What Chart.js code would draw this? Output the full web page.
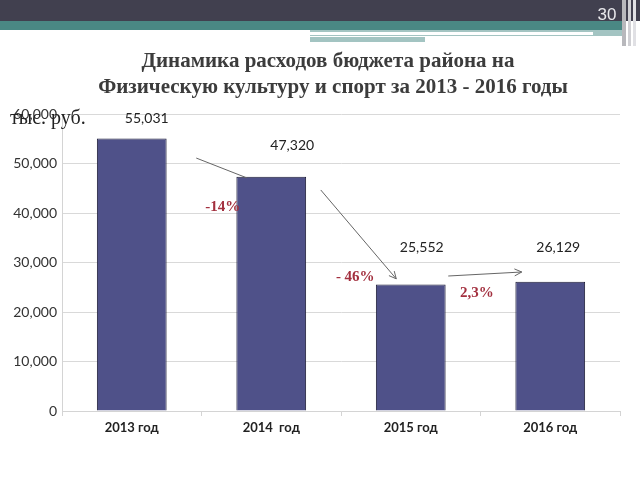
<!DOCTYPE html>
<html>
<head>
<meta charset="utf-8">
<script src="https://cdn.jsdelivr.net/npm/chart.js@4/dist/chart.umd.min.js"></script>
<style>
  html, body { margin: 0; padding: 0; background: #fff; }
  #wrap { width: 640px; height: 480px; position: relative; }
</style>
</head>
<body>
<div id="wrap"><canvas id="chart" width="640" height="480"></canvas></div>
<script>
// chart data
var years = ['2013 год', '2014  год', '2015 год', '2016 год'];
var spending = [55031, 47320, 25552, 26129];
var yTicks = [0, 10000, 20000, 30000, 40000, 50000, 60000];
var changes = ['-14%', '- 46%', '2,3%'];
var titleLines = ['Динамика расходов бюджета района на', 'Физическую культуру и спорт за 2013 - 2016 годы'];
var unitLabel = 'тыс. руб.';
var pageNo = '30';

function fmt(v) {
    return v === 0 ? '0' : v.toLocaleString('en-US');
}

// slide header stripes + title
var slidePlugin = {
    id: 'slide',
    beforeDraw: function(chart) {
        var ctx = chart.ctx;
        ctx.save();
        ctx.fillStyle = '#fff';
        ctx.fillRect(0, 0, chart.width, chart.height);
        ctx.fillStyle = '#41404f';
        ctx.fillRect(0, 0, 640, 21);
        ctx.fillStyle = '#4a8884';
        ctx.fillRect(0, 21, 625, 9);
        ctx.fillStyle = '#a3c4c2';
        ctx.fillRect(310, 30, 315, 6);
        ctx.fillStyle = '#ffffff';
        ctx.fillRect(0, 32, 593, 3);
        ctx.fillStyle = '#a3c4c2';
        ctx.fillRect(310, 37, 115, 5);
        ctx.fillStyle = '#b8b8bc';
        ctx.fillRect(622, 0, 4, 46);
        ctx.fillStyle = '#d0d0d4';
        ctx.fillRect(628, 0, 3, 46);
        ctx.fillStyle = '#e0e0e4';
        ctx.fillRect(633, 0, 3, 46);

        ctx.fillStyle = '#e8e8ec';
        ctx.font = '17px "Liberation Sans Narrow", "Liberation Sans", sans-serif';
        ctx.textAlign = 'center';
        ctx.textBaseline = 'middle';
        ctx.fillText(pageNo, 607, 15);

        ctx.fillStyle = '#3c3c3c';
        ctx.font = 'bold 21px "Liberation Serif", serif';
        ctx.fillText(titleLines[0], 328, 62);
        ctx.fillText(titleLines[1], 333, 88);
        ctx.restore();
    },
    afterDraw: function(chart) {
        var ctx = chart.ctx;
        var x = chart.scales.x, y = chart.scales.y;
        ctx.save();

        // value labels above bars (placed slightly right of centre, as on the slide)
        var lift = [20, 31, 37, 34];
        var shift = [15, 21, 11, 8];
        ctx.fillStyle = '#222';
        ctx.font = '14px Lato, sans-serif';
        ctx.textAlign = 'center';
        ctx.textBaseline = 'middle';
        spending.forEach(function(v, i) {
            ctx.fillText(fmt(v), x.getPixelForValue(i) + shift[i], y.getPixelForValue(v) - lift[i]);
        });

        // arrows between bars
        function arrow(x1, y1, x2, y2, head) {
            ctx.strokeStyle = '#666';
            ctx.lineWidth = 1;
            ctx.beginPath();
            ctx.moveTo(x1, y1);
            ctx.lineTo(x2, y2);
            ctx.stroke();
            if (head) {
                var a = Math.atan2(y2 - y1, x2 - x1);
                ctx.beginPath();
                ctx.moveTo(x2 - 8 * Math.cos(a - 0.45), y2 - 8 * Math.sin(a - 0.45));
                ctx.lineTo(x2, y2);
                ctx.lineTo(x2 - 8 * Math.cos(a + 0.45), y2 - 8 * Math.sin(a + 0.45));
                ctx.stroke();
            }
        }
        arrow(x.getPixelForValue(0) + 64.5, y.getPixelForValue(51100),
              x.getPixelForValue(1) - 24.5, y.getPixelForValue(47100), false);
        arrow(x.getPixelForValue(1) + 49.5, y.getPixelForValue(44650),
              x.getPixelForValue(2) - 14.5, y.getPixelForValue(26700), true);
        arrow(x.getPixelForValue(2) + 37.5, y.getPixelForValue(27270),
              x.getPixelForValue(3) - 28.5, y.getPixelForValue(28080), true);

        // change percentages
        ctx.fillStyle = '#a3303f';
        ctx.font = 'bold 15px "Liberation Serif", serif';
        ctx.fillText(changes[0], x.getPixelForValue(1) - 48.5, y.getPixelForValue(41200));
        ctx.fillText(changes[1], x.getPixelForValue(2) - 55.5, y.getPixelForValue(27070));
        ctx.fillText(changes[2], x.getPixelForValue(3) - 73.5, y.getPixelForValue(23840));

        // unit label drawn over the top tick
        ctx.fillStyle = '#222';
        ctx.font = '20px "Liberation Serif", serif';
        ctx.textAlign = 'left';
        ctx.fillText(unitLabel, 10, 119);
        ctx.restore();
    }
};

var ctx = document.getElementById('chart').getContext('2d');
var chart = new Chart(ctx, {
    type: 'bar',
    data: {
        labels: years,
        datasets: [{
            label: 'тыс. руб.',
            data: spending,
            backgroundColor: '#4f5189',
            borderColor: '#1e1e38',
            borderWidth: 1,
            barPercentage: 0.5,
            categoryPercentage: 1.0
        }]
    },
    options: {
        responsive: false,
        animation: false,
        layout: { padding: { top: 114, right: 20, bottom: 29, left: 0 } },
        plugins: {
            legend: { display: false },
            tooltip: { enabled: false }
        },
        scales: {
            x: {
                grid: { display: true, drawOnChartArea: false, drawTicks: true, tickLength: 5, color: '#d4d4d4', offset: true },
                border: { color: '#d4d4d4' },
                ticks: { color: '#222', font: { family: 'Lato', size: 13, weight: 'bold' }, padding: 4 },
                afterFit: function(s) { s.height = 40; }
            },
            y: {
                min: 0,
                max: 60000,
                afterBuildTicks: function(s) { s.ticks = yTicks.map(function(v) { return { value: v }; }); },
                grid: { color: '#d9d9d9', drawTicks: false },
                border: { color: '#d4d4d4' },
                ticks: {
                    color: '#333',
                    font: { family: 'Lato', size: 14 },
                    padding: 5,
                    callback: function(v) { return fmt(v); }
                },
                afterFit: function(s) { s.width = 62; }
            }
        }
    },
    plugins: [slidePlugin]
});
</script>
</body>
</html>
